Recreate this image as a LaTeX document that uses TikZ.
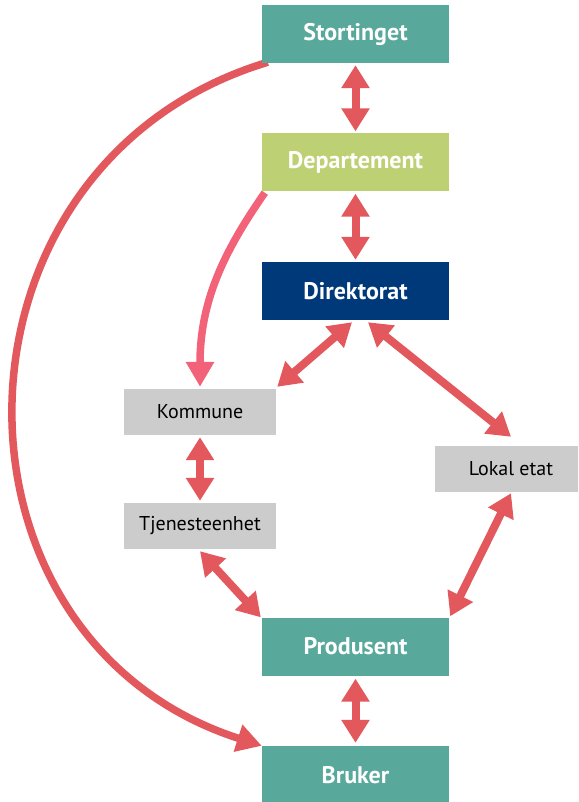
\documentclass[tikz,border=0pt]{standalone}
\usepackage{fontspec}
\setmainfont{PT Sans}
\usetikzlibrary{arrows.meta,calc,backgrounds}
\definecolor{cTeal}{HTML}{58A89B}
\definecolor{cGreen}{HTML}{BDD174}
\definecolor{cNavy}{HTML}{00397A}
\definecolor{cGrey}{HTML}{CCCCCC}
\definecolor{cArrow}{HTML}{E2585C}
\definecolor{cPink}{HTML}{F26379}
\begin{document}
\begin{tikzpicture}[x=1pt,y=-1pt,
  mainbox/.style={minimum width=187pt, minimum height=58pt, inner sep=0pt, text=white,
    font=\bfseries\fontsize{24}{28}\selectfont},
  subbox/.style={fill=cGrey, minimum height=46pt, inner sep=0pt, text=black,
    font=\fontsize{20}{24}\selectfont},
  dbl/.style={draw=cArrow, line width=8pt,
    {Triangle[length=23pt,width=27pt]}-{Triangle[length=23pt,width=27pt]}},
  curvearrow/.style={line width=7.5pt, -{Triangle[length=25pt,width=27pt]}}
]
\useasboundingbox (0,0) rectangle (578,802);
\node[mainbox, fill=cTeal]  (stort) at (355.5,34)  {Stortinget};
\node[mainbox, fill=cGreen] (dep)   at (355.5,162.5) {Departement};
\node[mainbox, fill=cNavy]  (dir)   at (355.5,291) {Direktorat};
\node[subbox, minimum width=152pt] (kom) at (200,412) {Kommune};
\node[subbox, minimum width=152pt] (tje) at (200,526) {Tjenesteenhet};
\node[subbox, minimum width=143pt] (lok) at (506.5,469) {\hspace{9pt}Lokal etat};
\node[mainbox, fill=cTeal]  (prod)  at (355.5,646.5) {Produsent};
\node[mainbox, fill=cTeal]  (bru)   at (355.5,775) {Bruker};

\begin{scope}[on background layer]
\draw[curvearrow, draw=cArrow] ($(stort.south west)+(6,-1)$)
  .. controls (-66,163) and (-71,639) .. (bru.north west);
\draw[curvearrow, draw=cPink] ($(dep.south west)+(3,1)$)
  .. controls (225,250) and (200,300) .. ($(kom.north)+(0,-2)$);
\end{scope}

\draw[dbl] ($(stort.south)+(0,2)$) -- ($(dep.north)+(0,-2)$);
\draw[dbl] ($(dep.south)+(0,2)$) -- ($(dir.north)+(0,-2)$);
\draw[dbl] ($(dir.south)+(-3.5,2)$) -- ($(kom.north east)+(1,-2)$);
\draw[dbl] ($(dir.south)+(12.5,2)$) -- ($(lok.north)+(4.5,-9)$);
\draw[dbl] ($(kom.south)+(0,2)$) -- ($(tje.north)+(0,-2)$);
\draw[dbl] ($(tje.south)+(0,2)$) -- ($(prod.north west)+(-1,0)$);
\draw[dbl] ($(lok.south)+(4.5,1)$) -- ($(prod.north east)+(1,-1)$);
\draw[dbl] ($(prod.south)+(0,3)$) -- ($(bru.north)+(0,-3)$);
\end{tikzpicture}
\end{document}
